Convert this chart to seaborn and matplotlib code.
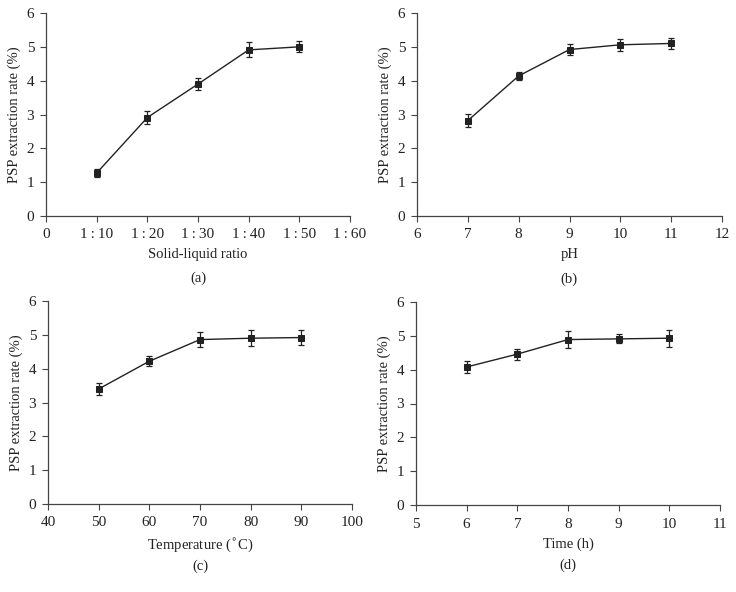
import matplotlib
matplotlib.use("Agg")
import matplotlib.pyplot as plt
import seaborn as sns
import pandas as pd

sns.set_theme(style="ticks")
plt.rcParams['font.family'] = ['Liberation Serif', 'DejaVu Serif']

# Data
ratio_x = [10, 20, 30, 40, 50]
ratio_y = [1.27, 2.91, 3.90, 4.91, 5.00]
ratio_err = [0.13, 0.19, 0.18, 0.22, 0.16]
ratio_ticklabels = ["0", "1\u2009:\u200910", "1\u2009:\u200920", "1\u2009:\u200930",
                    "1\u2009:\u200940", "1\u2009:\u200950", "1\u2009:\u200960"]

ph_x = [7, 8, 9, 10, 11]
ph_y = [2.82, 4.14, 4.92, 5.06, 5.10]
ph_err = [0.19, 0.12, 0.17, 0.17, 0.15]

temp_x = [50, 60, 70, 80, 90]
temp_y = [3.40, 4.22, 4.86, 4.90, 4.92]
temp_err = [0.17, 0.15, 0.21, 0.24, 0.22]

time_x = [6, 7, 8, 9, 10]
time_y = [4.08, 4.46, 4.89, 4.91, 4.93]
time_err = [0.19, 0.16, 0.24, 0.13, 0.25]

W, H = 736, 592
fig = plt.figure(figsize=(W / 100, H / 100), dpi=100)

def make_ax(l, r, t, b):
    return fig.add_axes([l / W, 1 - b / H, (r - l) / W, (b - t) / H])

panels = [
    dict(box=(46, 350, 13, 216), x=ratio_x, y=ratio_y, e=ratio_err, xlim=(0, 60),
         xticks=list(range(0, 61, 10)), xtl=ratio_ticklabels, xlabel="Solid-liquid ratio",
         tag="(a)", tagpos=(198, 278)),
    dict(box=(417, 722, 13, 216), x=ph_x, y=ph_y, e=ph_err, xlim=(6, 12),
         xticks=list(range(6, 13)), xtl=None, xlabel="pH", tag="(b)", tagpos=(569, 279)),
    dict(box=(48, 352, 301, 504), x=temp_x, y=temp_y, e=temp_err, xlim=(40, 100),
         xticks=list(range(40, 101, 10)), xtl=None, xlabel="Temperature ($^{\\circ}$C)",
         tag="(c)", tagpos=(200, 566)),
    dict(box=(416, 720, 302, 505), x=time_x, y=time_y, e=time_err, xlim=(5, 11),
         xticks=list(range(5, 12)), xtl=None, xlabel="Time (h)", tag="(d)", tagpos=(568, 565)),
]

col = "#222222"
for p in panels:
    ax = make_ax(*p["box"])
    df = pd.DataFrame({"x": p["x"], "y": p["y"]})
    ax.errorbar(p["x"], p["y"], yerr=p["e"], fmt="none", ecolor=col, elinewidth=0.9,
                capsize=2.5, capthick=0.9, zorder=2)
    sns.lineplot(data=df, x="x", y="y", ax=ax, color=col, linewidth=1.0, marker="s",
                 markersize=5, markeredgecolor=col, markerfacecolor=col, zorder=3)
    ax.set_xlim(*p["xlim"])
    ax.set_ylim(0, 6)
    ax.set_xticks(p["xticks"])
    if p["xtl"] is not None:
        ax.set_xticklabels(p["xtl"])
    ax.set_yticks(range(0, 7))
    sns.despine(ax=ax)
    for s in ["left", "bottom"]:
        ax.spines[s].set_color("#444444")
        ax.spines[s].set_linewidth(0.9)
    ax.tick_params(direction="out", length=4, width=0.8, color="#444444",
                   labelsize=11, labelcolor=col)
    ax.tick_params(axis="x", pad=5)
    ax.tick_params(axis="y", pad=4.5)
    ax.set_xlabel(p["xlabel"], fontsize=10.5, color=col, labelpad=5)
    ax.set_ylabel("PSP extraction rate (%)", fontsize=10.5, color=col, labelpad=4)
    fig.text(p["tagpos"][0] / W, 1 - p["tagpos"][1] / H, p["tag"], ha="center", va="center",
             fontsize=10.5, color=col)

fig.savefig("out.png", dpi=100)
